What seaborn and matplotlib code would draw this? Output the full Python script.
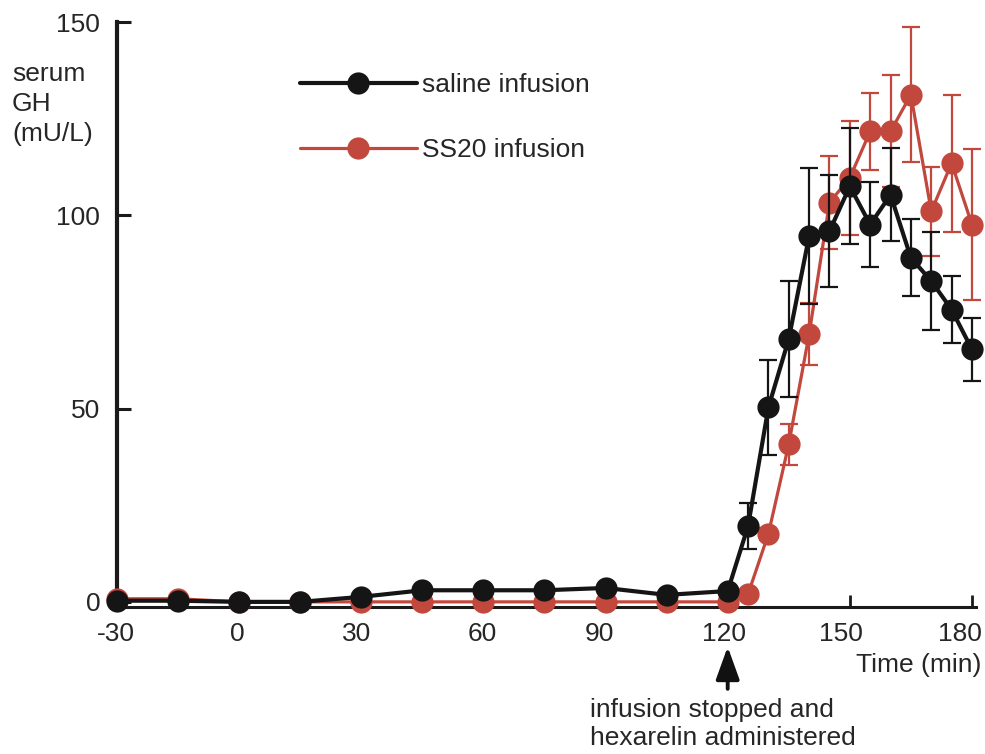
import numpy as np
import pandas as pd
import matplotlib
matplotlib.use("Agg")
import matplotlib.pyplot as plt
import matplotlib.transforms as mtransforms
import seaborn as sns

# Sampling times (min) and serum GH (mU/L), mean and SEM per group
times = [-30, -15, 0, 15, 30, 45, 60, 75, 90, 105, 120,
         125, 130, 135, 140, 145, 150, 155, 160, 165, 170, 175, 180]
saline_mean = [0.3, 0.3, 0.0, 0.0, 1.3, 3.0, 3.0, 3.0, 3.6, 1.8, 2.8,
               19.6, 50.3, 68.0, 94.6, 95.9, 107.5, 97.6, 105.3, 89.0, 83.0, 75.6, 65.3]
saline_sem = [0.5, 0.5, 0.5, 0.5, 0.5, 0.5, 0.5, 0.5, 0.5, 0.5, 0.8,
              6.0, 12.3, 15.0, 17.6, 14.5, 15.0, 11.0, 12.0, 10.0, 12.6, 8.6, 8.2]
ss20_mean = [0.8, 0.8, 0.0, 0.0, 0.0, 0.0, 0.0, 0.0, 0.0, 0.0, 0.0,
             2.0, 17.6, 40.8, 69.2, 103.3, 109.7, 121.7, 121.7, 131.2, 101.0, 113.5, 97.6]
ss20_sem = [0.5, 0.5, 0.5, 0.5, 0.5, 0.5, 0.5, 0.5, 0.5, 0.5, 0.5,
            1.0, 1.5, 5.3, 8.0, 12.0, 14.7, 10.0, 14.5, 17.5, 11.5, 17.7, 19.6]

x_ticks = [-30, 0, 30, 60, 90, 120, 150, 180]
y_ticks = [0, 50, 100, 150]

groups = ["saline infusion", "SS20 infusion"]
colors = {"saline infusion": "#151515", "SS20 infusion": "#c2473d"}
widths = {"saline infusion": 3.0, "SS20 infusion": 2.3}

df = pd.concat([
    pd.DataFrame({"time": times, "gh": saline_mean, "sem": saline_sem, "group": groups[0]}),
    pd.DataFrame({"time": times, "gh": ss20_mean, "sem": ss20_sem, "group": groups[1]}),
], ignore_index=True)

sns.set_style("ticks")
plt.rcParams["font.family"] = ["Liberation Sans", "DejaVu Sans"]
plt.rcParams["axes.unicode_minus"] = False
text_color = "#262626"
fs = 19

fig = plt.figure(figsize=(9.85, 7.54), dpi=100)
ax = fig.add_axes([0.1188, 0.1951, 0.8721, 0.7757])

# red series first so the saline markers sit on top
for g, z in [(groups[1], 3), (groups[0], 4)]:
    sub = df[df["group"] == g]
    ax.errorbar(sub["time"], sub["gh"], yerr=sub["sem"], fmt="none",
                ecolor=colors[g], elinewidth=1.6, capsize=6.5, capthick=1.6,
                zorder=z - 0.5, clip_on=False)
    sns.lineplot(data=sub, x="time", y="gh", ax=ax, color=colors[g],
                 linewidth=widths[g], marker="o", markersize=16,
                 markeredgewidth=0, label=g, zorder=z, clip_on=False,
                 errorbar=None)

ax.set_xlim(-30, 181)
ax.set_ylim(-1.3, 150)
ax.set_xticks(x_ticks)
ax.set_yticks(y_ticks)
ax.set_xlabel("")
ax.set_ylabel("")

for side in ["top", "right"]:
    ax.spines[side].set_visible(False)
ax.spines["left"].set_linewidth(3.0)
ax.spines["left"].set_color("#1a1a1a")
ax.spines["left"].set_bounds(0, 150)
ax.spines["bottom"].set_linewidth(2.2)
ax.spines["bottom"].set_color("#1a1a1a")

ax.tick_params(axis="y", direction="in", length=10, width=2.2, color="#1a1a1a",
               labelsize=fs, labelcolor=text_color, pad=12)
ax.tick_params(axis="x", direction="in", length=9, width=2.0, color="#1a1a1a",
               labelsize=fs, labelcolor=text_color, pad=11)

# hand-set nudges (px) of the time labels, drifting left toward the right end
label_nudge = [-1, -2, -5, -1, -6, -4, -9, -12]
for lab, dx in zip(ax.get_xticklabels(), label_nudge):
    lab.set_transform(lab.get_transform() +
                      mtransforms.ScaledTranslation(dx / 100, 0, fig.dpi_scale_trans))

handles, labels = ax.get_legend_handles_labels()
order = [labels.index(groups[0]), labels.index(groups[1])]
ax.legend([handles[i] for i in order], [labels[i] for i in order],
          loc="upper left", bbox_to_anchor=(0.213, 0.912), frameon=False,
          fontsize=fs, handlelength=4.43, handletextpad=0.19,
          labelspacing=1.55, borderpad=0, borderaxespad=0,
          labelcolor=text_color)

fig.text(12 / 985, 1 - 104 / 754, "serum\nGH\n(mU/L)", ha="left", va="center",
         fontsize=fs, color=text_color, linespacing=1.3)
fig.text(981 / 985, 1 - 665 / 754, "Time (min)", ha="right", va="center",
         fontsize=fs, color=text_color)

# arrow marking the end of infusion / hexarelin bolus
ax.annotate("", xy=(120, -11.6), xytext=(120, -22.5), xycoords="data",
            textcoords="data", annotation_clip=False,
            arrowprops=dict(arrowstyle="-|>,head_length=2.0,head_width=0.72",
                            color="#111111", lw=2.8, shrinkA=0, shrinkB=0))
fig.text(590 / 985, 1 - 724 / 754, "infusion stopped and\nhexarelin administered",
         ha="left", va="center", fontsize=fs, color=text_color, linespacing=1.22)

fig.savefig("out.png", dpi=100, facecolor="white")
